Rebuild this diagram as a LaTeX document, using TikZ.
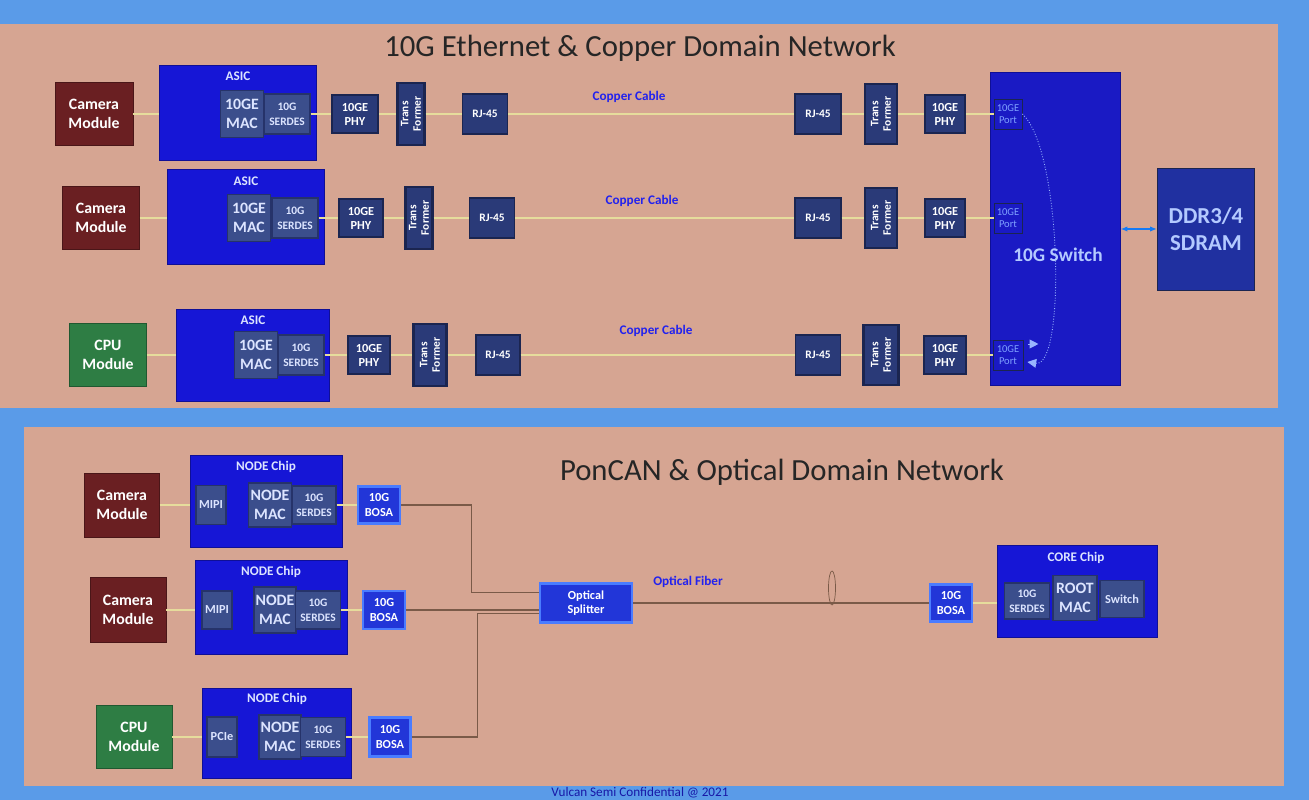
\documentclass[tikz,border=0pt]{standalone}
\usepackage{fontspec}
\setmainfont{Carlito}
\usepackage{xcolor}
\usetikzlibrary{shapes.geometric}
\usetikzlibrary{arrows.meta}

\definecolor{screen}{HTML}{5A9BE8}
\definecolor{panel}{HTML}{D6A592}
\definecolor{camred}{HTML}{6A1F22}
\definecolor{cpugreen}{HTML}{2E7D44}
\definecolor{chipblue}{HTML}{1616D6}
\definecolor{blkgray}{HTML}{3B4E8C}
\definecolor{blkedge}{HTML}{26336A}
\definecolor{blktext}{HTML}{DCE4FF}
\definecolor{partnavy}{HTML}{2A3A78}
\definecolor{partedge}{HTML}{1B2550}
\definecolor{bosablue}{HTML}{2236D8}
\definecolor{bosaedge}{HTML}{4A7CFF}
\definecolor{swblue}{HTML}{1A1AC4}
\definecolor{ddrblue}{HTML}{2030A0}
\definecolor{wirecol}{HTML}{E6DC9C}
\definecolor{fibercol}{HTML}{7A5A48}
\definecolor{cablecol}{HTML}{2222EE}
\definecolor{portcol}{HTML}{7FA2FF}
\definecolor{swtext}{HTML}{B4CAFF}

\tikzset{
  wh/.style 2 args={minimum width=#1*0.02cm, minimum height=#2*0.02cm},
  module/.style={text=white, align=center, inner sep=0pt,
    font=\fontsize{9}{10.5}\selectfont\bfseries},
  camera/.style={module, fill=camred, draw=camred!70!black},
  cpu/.style={module, fill=cpugreen, draw=cpugreen!70!black},
  chip/.style={fill=chipblue, draw=chipblue!70!black, inner sep=0pt},
  chiplbl/.style={text=blktext, font=\fontsize{7.5}{8}\selectfont\bfseries},
  blk/.style={fill=blkgray, draw=blkedge, line width=0.8pt, text=blktext,
    align=center, inner sep=0pt, font=\fontsize{9}{10.5}\selectfont\bfseries},
  serdes/.style={blk, font=\fontsize{6.5}{8.5}\selectfont\bfseries},
  part/.style={fill=partnavy, draw=partedge, line width=1.4pt, text=white,
    align=center, inner sep=0pt, font=\fontsize{7}{8}\selectfont\bfseries},
  rj/.style={part, line width=0.8pt, font=\fontsize{6.5}{8}\selectfont\bfseries},
  former/.style={part, rotate=90, font=\fontsize{6.5}{7.2}\selectfont\bfseries},
  bosa/.style={part, fill=bosablue, draw=bosaedge, line width=1.2pt},
  port/.style={fill=swblue, draw=partedge, line width=0.5pt, text=portcol,
    align=center, inner sep=0pt, font=\fontsize{6}{6.8}\selectfont},
  wire/.style={draw=wirecol, line width=0.7pt},
  fiber/.style={draw=fibercol, line width=0.6pt},
  cablelbl/.style={text=cablecol, font=\fontsize{7.5}{8}\selectfont\bfseries},
  title/.style={text=black!85, font=\fontsize{17.5}{20}\selectfont},
  loopline/.style={draw=portcol!80, densely dotted, line width=0.5pt},
}

\begin{document}
\begin{tikzpicture}[x=0.02cm,y=-0.02cm]
  \useasboundingbox (0,0) rectangle (1309,800);
  \fill[screen] (0,0) rectangle (1309,800);
  \fill[panel] (0,24) rectangle (1278,408);
  \fill[panel] (24,427) rectangle (1284,786);

  \node[title] (ttop) at (640,48) {10G Ethernet \& Copper Domain Network};

  \node[chip, fill=swblue, wh={130}{313}] (sw) at (1055,229) {};
  \node[text=swtext, font=\fontsize{11}{12}\selectfont\bfseries] (swl) at (1058,255) {10G Switch};
  \node[module, fill=ddrblue, draw=partedge, text=swtext, wh={97}{122},
    font=\fontsize{13}{15.5}\selectfont\bfseries] (ddr) at (1206,229) {DDR3/4\\SDRAM};
  \draw[draw=cablecol!60!cyan, line width=1pt, {Latex[length=4pt]}-{Latex[length=4pt]}] (sw) -- (ddr);

  \node[camera, wh={78}{63}] (cam1) at (94,114) {Camera\\Module};
  \node[chip, wh={157}{95}] (asic1) at (238,113) {};
  \node[chiplbl] (asic1l) at (238,76) {ASIC};
  \node[blk, wh={43}{47}] (mac1) at (242,114) {10GE\\MAC};
  \node[serdes, wh={46}{40}] (ser1) at (287,114) {10G\\SERDES};
  \node[part, wh={46}{38}] (phy1) at (355,114) {10GE\\PHY};
  \node[former, wh={62}{27}] (tf1) at (411,114) {Trans\\Former};
  \node[rj, wh={45}{40}] (rj1) at (485,114) {RJ-45};
  \node[cablelbl] (cc1) at (629,97) {Copper Cable};
  \node[rj, wh={46}{40}] (rjb1) at (818,114) {RJ-45};
  \node[former, wh={60}{32}] (tfb1) at (881,114) {Trans\\Former};
  \node[part, wh={40}{38}] (phyb1) at (945,114) {10GE\\PHY};
  \node[port, wh={28}{30}] (port1) at (1008,114) {10GE\\Port};

  \node[camera, wh={77}{63}] (cam2) at (101,218) {Camera\\Module};
  \node[chip, wh={157}{95}] (asic2) at (246,217) {};
  \node[chiplbl] (asic2l) at (246,181) {ASIC};
  \node[blk, wh={43}{47}] (mac2) at (249,218) {10GE\\MAC};
  \node[serdes, wh={46}{40}] (ser2) at (295,218) {10G\\SERDES};
  \node[part, wh={44}{38}] (phy2) at (361,218) {10GE\\PHY};
  \node[former, wh={62}{27}] (tf2) at (419,218) {Trans\\Former};
  \node[rj, wh={45}{40}] (rj2) at (492,218) {RJ-45};
  \node[cablelbl] (cc2) at (642,201) {Copper Cable};
  \node[rj, wh={46}{40}] (rjb2) at (818,218) {RJ-45};
  \node[former, wh={60}{32}] (tfb2) at (881,218) {Trans\\Former};
  \node[part, wh={40}{38}] (phyb2) at (945,218) {10GE\\PHY};
  \node[port, wh={28}{30}] (port2) at (1008,218) {10GE\\Port};

  \node[cpu, wh={77}{63}] (cam3) at (108,355) {CPU\\Module};
  \node[chip, wh={153}{92}] (asic3) at (253,355) {};
  \node[chiplbl] (asic3l) at (253,320) {ASIC};
  \node[blk, wh={43}{47}] (mac3) at (256,355) {10GE\\MAC};
  \node[serdes, wh={46}{40}] (ser3) at (301,355) {10G\\SERDES};
  \node[part, wh={42}{38}] (phy3) at (369,355) {10GE\\PHY};
  \node[former, wh={62}{33}] (tf3) at (430,355) {Trans\\Former};
  \node[rj, wh={44}{40}] (rj3) at (498,355) {RJ-45};
  \node[cablelbl] (cc3) at (656,331) {Copper Cable};
  \node[rj, wh={45}{40}] (rjb3) at (818,355) {RJ-45};
  \node[former, wh={60}{35}] (tfb3) at (881,355) {Trans\\Former};
  \node[part, wh={42}{38}] (phyb3) at (945,355) {10GE\\PHY};
  \node[port, wh={30}{30}] (port3) at (1008,355) {10GE\\Port};

  \draw[wire] (cam1) -- (cam1 -| asic1.west);
  \draw[wire] (ser1) -- (phy1);
  \draw[wire] (phy1) -- (tf1);
  \draw[wire] (tf1) -- (rj1);
  \draw[wire] (rj1) -- (rjb1);
  \draw[wire] (rjb1) -- (tfb1);
  \draw[wire] (tfb1) -- (phyb1);
  \draw[wire] (phyb1) -- (port1);
  \draw[wire] (cam2) -- (cam2 -| asic2.west);
  \draw[wire] (ser2) -- (phy2);
  \draw[wire] (phy2) -- (tf2);
  \draw[wire] (tf2) -- (rj2);
  \draw[wire] (rj2) -- (rjb2);
  \draw[wire] (rjb2) -- (tfb2);
  \draw[wire] (tfb2) -- (phyb2);
  \draw[wire] (phyb2) -- (port2);
  \draw[wire] (cam3) -- (cam3 -| asic3.west);
  \draw[wire] (ser3) -- (phy3);
  \draw[wire] (phy3) -- (tf3);
  \draw[wire] (tf3) -- (rj3);
  \draw[wire] (rj3) -- (rjb3);
  \draw[wire] (rjb3) -- (tfb3);
  \draw[wire] (tfb3) -- (phyb3);
  \draw[wire] (phyb3) -- (port3);

  \path (port3.east) +(4,7) coordinate (p3in);
  \path (port3.east) +(5,-11) coordinate (p3a);
  \path (port3.east) +(15,-11) coordinate (p3b);
  \draw[loopline, -{Triangle[length=5pt,width=5pt]}] (port1.east)
    .. controls (1062,150) and (1066,368) .. (p3in);
  \draw[loopline, solid, -{Triangle[length=5pt,width=5pt]}] (p3a) -- (p3b);

  \node[title] (tbot) at (782,472) {PonCAN \& Optical Domain Network};

  \node[camera, wh={75}{64}] (cama) at (122,505) {Camera\\Module};
  \node[chip, wh={152}{92}] (chipa) at (266,501) {};
  \node[chiplbl] (chipal) at (266,467) {NODE Chip};
  \node[blk, wh={30}{39}, font=\fontsize{7}{8}\selectfont\bfseries] (mipia) at (211,505) {MIPI};
  \node[blk, wh={43}{44}] (maca) at (270,505) {NODE\\MAC};
  \node[serdes, wh={44}{38}] (sera) at (314,505) {10G\\SERDES};
  \node[bosa, wh={42}{37}] (bosaa) at (379,505) {10G\\BOSA};

  \node[camera, wh={76}{65}] (camb) at (128,610) {Camera\\Module};
  \node[chip, wh={152}{94}] (chipb) at (271,607) {};
  \node[chiplbl] (chipbl) at (271,572) {NODE Chip};
  \node[blk, wh={30}{38}, font=\fontsize{7}{8}\selectfont\bfseries] (mipib) at (217,610) {MIPI};
  \node[blk, wh={42}{46}] (macb) at (275,610) {NODE\\MAC};
  \node[serdes, wh={45}{38}] (serb) at (318,610) {10G\\SERDES};
  \node[bosa, wh={42}{38}] (bosab) at (384,610) {10G\\BOSA};

  \node[cpu, wh={76}{63}] (camc) at (134,737) {CPU\\Module};
  \node[chip, wh={149}{90}] (chipc) at (277,733) {};
  \node[chiplbl] (chipcl) at (277,699) {NODE Chip};
  \node[blk, wh={30}{40}, font=\fontsize{7}{8}\selectfont\bfseries] (pciec) at (222,737) {PCIe};
  \node[blk, wh={42}{44}] (macc) at (280,737) {NODE\\MAC};
  \node[serdes, wh={45}{39}] (serc) at (323,737) {10G\\SERDES};
  \node[bosa, wh={41}{39}] (bosac) at (390,737) {10G\\BOSA};

  \node[bosa, wh={92}{39}] (spl) at (586,603) {Optical\\Splitter};
  \node[cablelbl] (fibl) at (688,582) {Optical Fiber};
  \node[draw=fibercol, ellipse, inner sep=0pt, wh={7}{34}] (loss) at (832,588) {};
  \node[bosa, wh={42}{37}] (bosar) at (951,603) {10G\\BOSA};

  \node[chip, wh={160}{92}] (core) at (1077,591) {};
  \node[chiplbl] (corel) at (1076,558) {CORE Chip};
  \node[serdes, wh={45}{36}] (cser) at (1027,601) {10G\\SERDES};
  \node[blk, wh={44}{45}] (cmac) at (1075,598) {ROOT\\MAC};
  \node[blk, wh={44}{37}, font=\fontsize{7}{8}\selectfont\bfseries] (csw) at (1122,599) {Switch};

  \draw[wire] (cama) -- (cama -| chipa.west);
  \draw[wire] (sera) -- (bosaa);
  \draw[wire] (camb) -- (camb -| chipb.west);
  \draw[wire] (serb) -- (bosab);
  \draw[wire] (camc) -- (camc -| chipc.west);
  \draw[wire] (serc) -- (bosac);
  \draw[wire] (bosar) -- (bosar -| core.west);

  \draw[fiber] (bosaa.east) -- ++(70,0) |- ([yshift=6pt]spl.west);
  \draw[fiber] (bosab) -- (bosab -| spl.west);
  \draw[fiber] (bosac.east) -- ++(66,0) |- ([yshift=-6pt]spl.west);
  \draw[fiber] (spl) -- (bosar);

  \node[text=cablecol!70!black, inner sep=0pt, font=\fontsize{7.5}{8}\selectfont] (conf) at (640,793)
    {Vulcan Semi Confidential @ 2021};
\end{tikzpicture}
\end{document}
